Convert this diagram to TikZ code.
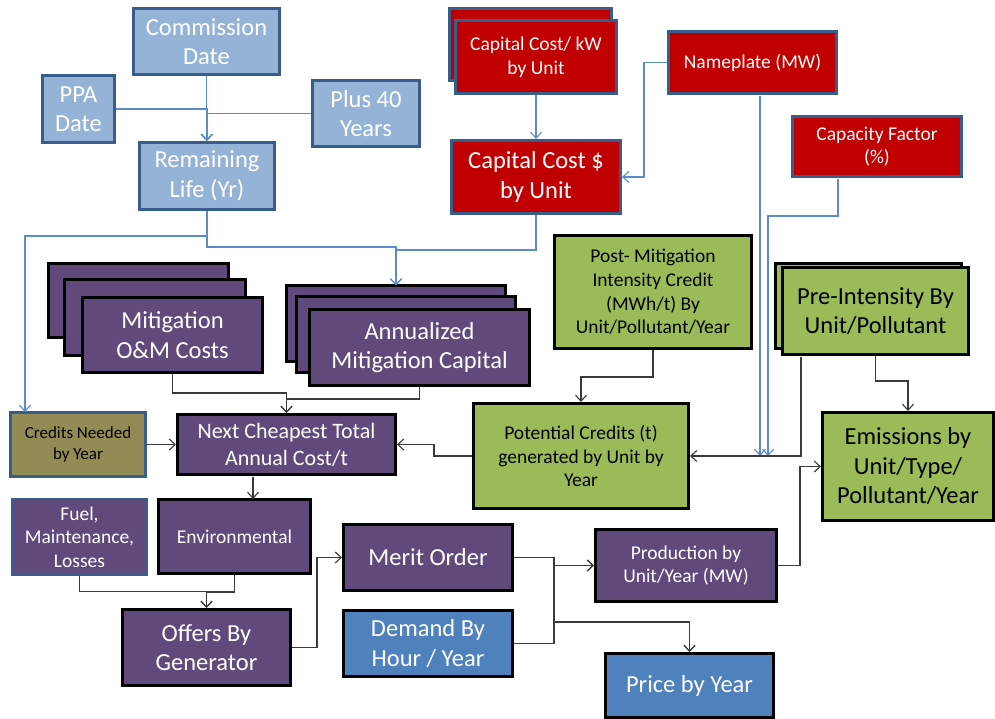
\documentclass[tikz,border=0pt]{standalone}
\usepackage{fontspec}
\setmainfont{Carlito}
\usetikzlibrary{arrows.meta}
\definecolor{lblue}{HTML}{95B3D7}
\definecolor{bbord}{HTML}{385D8A}
\definecolor{dred}{HTML}{C00000}
\definecolor{purp}{HTML}{604A7B}
\definecolor{grn}{HTML}{9BBB59}
\definecolor{olive}{HTML}{948A54}
\definecolor{mblue}{HTML}{4F81BD}
\definecolor{bline}{HTML}{5B8BC9}
\definecolor{gline}{HTML}{3A3A3A}
\newcommand\boxat[7]{\node[#1, minimum width={#5-#3-2.6}, minimum height={#6-#4-2.6}] (#2) at ({(#3+#5)/2},{(#4+#6)/2}) {#7};}
\tikzset{
  box/.style={draw, line width=2.6pt, align=center, inner sep=0pt, text=white},
  lb/.style={box, fill=lblue, draw=bbord},
  rd/.style={box, fill=dred, draw=bbord},
  pu/.style={box, fill=purp, draw=black},
  gr/.style={box, fill=grn, draw=black, text=black},
  db/.style={box, fill=mblue, draw=black},
  fL/.style={font=\fontsize{24.5}{29.5}\selectfont},
  fN/.style={font=\fontsize{22}{26.7}\selectfont},
  fM/.style={font=\fontsize{19.5}{23.7}\selectfont},
  fS/.style={font=\fontsize{17}{21}\selectfont},
  tip/.style={-{Straight Barb[length=6pt,width=11pt]}},
  bconn/.style={draw=bline, line width=1.1pt},
  kconn/.style={draw=gline, line width=1.1pt},
}
\begin{document}
\begin{tikzpicture}[x=1pt,y=-1pt]
\useasboundingbox (0,0) rectangle (995,719);
% top-left light blue group
\boxat{lb,fL}{cd}{132}{7}{281}{76}{Commission\\Date}
\boxat{lb,fL}{ppa}{41}{74}{116}{144}{PPA\\Date}
\boxat{lb,fL}{p40}{311}{79}{421}{148}{Plus 40\\Years}
\boxat{lb,fL}{rl}{138}{141}{276}{211}{Remaining\\Life (Yr)}
% red group
\boxat{rd}{ckwb}{448}{7}{613}{82}{}
\boxat{rd,fM}{ckw}{454}{19}{618}{95}{Capital Cost/ kW\\by Unit}
\boxat{rd,fL}{cc}{450}{139}{622}{215}{Capital Cost \$\\by Unit}
\boxat{rd,fM}{np}{667}{30}{838}{95}{Nameplate (MW)}
\boxat{rd,fM}{cf}{791}{115}{963}{178}{Capacity Factor\\(\%)}
% purple stacks
\boxat{pu}{mitc}{47}{262}{230}{339}{}
\boxat{pu}{mitb}{63}{278}{247}{357}{}
\boxat{pu,fL}{mit}{81}{296}{264}{374}{Mitigation\\O\&M Costs}
\boxat{pu}{annc}{285}{284}{507}{363}{}
\boxat{pu}{annb}{295}{295}{517}{374}{}
\boxat{pu,fL}{ann}{308}{308}{531}{387}{Annualized\\Mitigation Capital}
% green group
\boxat{gr,fM}{post}{553}{234}{753}{350}{Post- Mitigation\\Intensity Credit\\(MWh/t) By\\Unit/Pollutant/Year}
\boxat{gr}{preb}{774}{262}{963}{350}{}
\boxat{gr,fL}{pre}{781}{266}{970}{356}{Pre-Intensity By\\Unit/Pollutant}
\boxat{gr,fM}{pot}{472}{402}{690}{510}{Potential Credits (t)\\generated by Unit by\\Year}
\boxat{gr,fL}{em}{821}{411}{995}{522}{Emissions by\\Unit/Type/\\Pollutant/Year}
% middle row
\boxat{box,fill=olive,draw=bbord,text=black,fS}{cn}{9}{411}{147}{478}{Credits Needed\\by Year}
\boxat{pu,fN}{next}{176}{413}{397}{476}{Next Cheapest Total\\Annual Cost/t}
% lower part
\boxat{pu,draw=bbord,line width=2pt,fM}{fuel}{11}{498}{148}{576}{Fuel,\\Maintenance,\\Losses}
\boxat{pu,fM}{env}{157}{498}{312}{575}{Environmental}
\boxat{pu,fL}{off}{121}{608}{292}{687}{Offers By\\Generator}
\boxat{pu,fL}{mer}{342}{523}{514}{592}{Merit Order}
\boxat{db,fL}{dem}{342}{609}{514}{678}{Demand By\\Hour / Year}
\boxat{pu,fM}{prod}{594}{528}{778}{603}{Production by\\Unit/Year (MW)}
\boxat{db,fL}{price}{604}{652}{775}{719}{Price by Year}
% junction coordinates
\coordinate (cnin) at (25,412);
\coordinate (annin) at (396,285.5);
\coordinate (npout) at (760,96);
\coordinate (npin) at (760,456);
\coordinate (cfout) at (838,179);
\coordinate (cfin) at (768,456);
\coordinate (preout) at (801,357);
\coordinate (nextout) at (253,477);
\coordinate (envin) at (253,499);
% blue connectors
\draw[bconn,tip] (cd.south) -- (cd.south |- rl.north);
\draw[bconn,tip] (ppa.east) -| (rl.north);
\draw[bconn,tip] (p40.west) -| (rl.north);
\draw[bconn,tip] (rl.south) |- (25,236) -- (cnin);
\draw[bconn,tip] (rl.south) |- (396,247) -- (annin);
\draw[bconn,tip] (cc.south) |- (396,250) -- (annin);
\draw[bconn,tip] (ckw.south) -- (ckw.south |- cc.north);
\draw[bconn,tip] (np.west) -| (644,177) -- (cc.east);
\draw[bconn,tip] (npout) -- (npin);
\draw[bconn,tip] (cfout) |- (768,216) -- (cfin);
% dark connectors
\draw[kconn,tip] (preout) |- (pot.east);
\draw[kconn,tip] (pre.south) -- ++(0,25) -| (em.north);
\draw[kconn,tip] (post.south) -- ++(0,27) -| (pot.north);
\draw[kconn,tip] (pot.west) -- (434,456) |- (next.east);
\draw[kconn,tip] (cn.east) -- (next.west);
\draw[kconn,tip] (mit.south) -- ++(0,19) -| (next.north);
\draw[kconn,tip] (ann.south) -- ++(0,12) -| (next.north);
\draw[kconn,tip] (nextout) -- (envin);
\draw[kconn,tip] (fuel.south) -- ++(0,16) -| (off.north);
\draw[kconn,tip] (env.south) -- ++(0,17) -| (off.north);
\draw[kconn,tip] (off.east) -- (317,647.5) |- (mer.west);
\draw[kconn,tip] (mer.east) -- (554,557.5) |- (prod.west);
\draw[kconn,tip] (dem.east) -- (554,643.5) |- (prod.west);
\draw[kconn,tip] (mer.east) -| (554,622) -| (price.north);
\draw[kconn,tip] (dem.east) -| (554,622) -| (price.north);
\draw[kconn,tip] (prod.east) -- (800,565.5) |- (em.west);
\end{tikzpicture}
\end{document}
